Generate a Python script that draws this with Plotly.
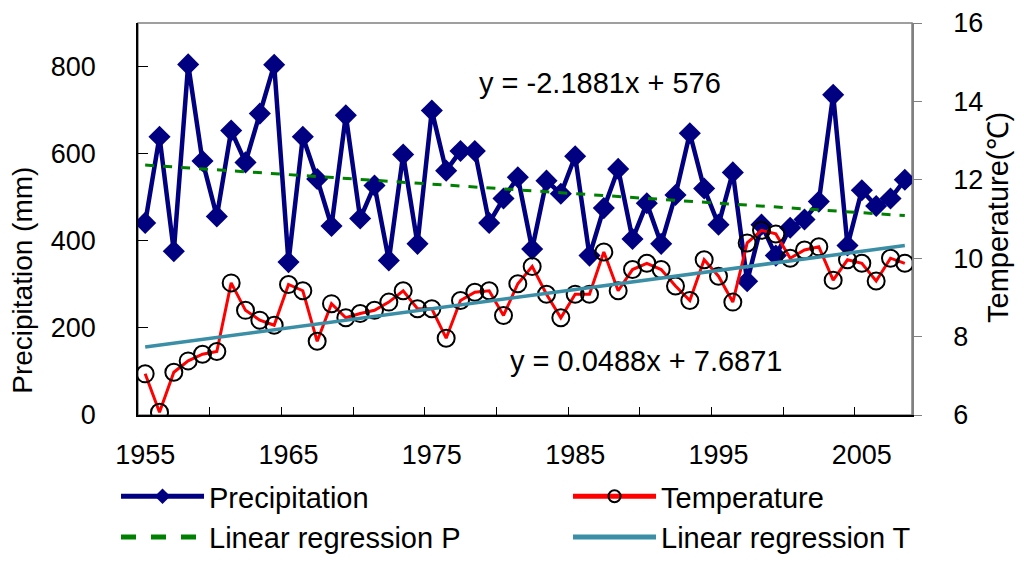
import plotly.graph_objects as go

years = list(range(1955, 2009))

precipitation = [
    441, 639, 376, 805, 583, 456, 653, 580, 692, 804,
    351, 639, 542, 434, 688, 451, 527, 355, 598, 393,
    699, 561, 606, 606, 441, 497, 546, 381, 538, 508,
    594, 366, 475, 565, 404, 486, 393, 505, 647, 520,
    437, 557, 307, 437, 366, 430, 449, 490, 735, 389,
    516, 480, 497, 540,
]

temperature = [
    7.05, 6.07, 7.09, 7.38, 7.55, 7.62, 9.37, 8.67, 8.42, 8.29,
    9.33, 9.17, 7.88, 8.84, 8.48, 8.59, 8.67, 8.88, 9.17, 8.71,
    8.71, 7.96, 8.92, 9.13, 9.17, 8.54, 9.35, 9.79, 9.08, 8.48,
    9.08, 9.08, 10.16, 9.17, 9.71, 9.87, 9.71, 9.29, 8.92, 9.96,
    9.54, 8.88, 10.39, 10.71, 10.62, 10.00, 10.21, 10.29, 9.44, 9.96,
    9.87, 9.42, 10.00, 9.87,
]

# trendline coefficients as printed on the chart (x = 1, 2, ... per year)
p_slope, p_intercept = -2.1881, 576
t_slope, t_intercept = 0.0488, 7.6871

p_trend = [p_slope * (i + 1) + p_intercept for i in range(len(years))]
t_trend = [t_slope * (i + 1) + t_intercept for i in range(len(years))]

label_years = [1955, 1965, 1975, 1985, 1995, 2005]
tick_marks = [y + 0.5 for y in range(1959, 2008, 5)]

font_name = "Liberation Sans, Arial, sans-serif"

fig = go.Figure()

fig.add_trace(go.Scatter(
    x=years, y=precipitation, name="Precipitation",
    mode="lines+markers",
    line=dict(color="#000080", width=4.5),
    marker=dict(symbol="diamond", size=17, color="#000080"),
))
fig.add_trace(go.Scatter(
    x=years, y=temperature, name="Temperature", yaxis="y2",
    mode="lines+markers",
    line=dict(color="#ff0000", width=3),
    marker=dict(symbol="circle-open", size=17, color="black",
                line=dict(width=2, color="black")),
))
fig.add_trace(go.Scatter(
    x=years, y=p_trend, name="Linear regression P",
    mode="lines",
    line=dict(color="#008000", width=3, dash="dash"),
))
fig.add_trace(go.Scatter(
    x=years, y=t_trend, name="Linear regression T", yaxis="y2",
    mode="lines",
    line=dict(color="#3a8fa6", width=3.5),
))

fig.add_annotation(x=1986.7, y=762, text="y = -2.1881x + 576",
                   showarrow=False, font=dict(size=29, color="black"))
fig.add_annotation(x=1990.0, y=123, text="y = 0.0488x + 7.6871",
                   showarrow=False, font=dict(size=29, color="black"))

# axis titles
fig.add_annotation(xref="paper", yref="paper", x=-0.1486, y=0.345,
                   xanchor="center", yanchor="middle",
                   text="Precipitation (mm)", textangle=-90, showarrow=False,
                   font=dict(size=28, color="black"))
fig.add_annotation(xref="paper", yref="paper", x=1.111, y=0.505,
                   xanchor="center", yanchor="middle",
                   text="Temperature(℃)", textangle=-90, showarrow=False,
                   font=dict(size=29, color="black"))

# grey plot-area frame
fig.add_shape(type="rect", xref="paper", yref="paper", x0=0, x1=1, y0=0, y1=1,
              line=dict(color="#808080", width=1.5), layer="below")

fig.update_layout(
    width=1016, height=567,
    margin=dict(l=130, r=112, t=15, b=152),
    paper_bgcolor="white", plot_bgcolor="white",
    font=dict(family=font_name, size=27, color="black"),
    showlegend=True,
    legend=dict(
        orientation="h", x=-0.0284, xanchor="left", y=-0.1425, yanchor="top",
        itemwidth=83, entrywidth=354, itemsizing="constant",
        font=dict(size=29), tracegroupgap=0, bgcolor="rgba(0,0,0,0)",
    ),
    xaxis=dict(
        range=[1954.5, 2008.5], tickvals=label_years, ticks="",
        showline=True, linecolor="black", linewidth=1.5,
        showgrid=False, zeroline=False, ticklabelstandoff=15,
        automargin=False, ticklabeloverflow="allow",
        minor=dict(tickvals=tick_marks, ticks="inside", ticklen=8,
                   tickcolor="black", showgrid=False),
    ),
    yaxis=dict(
        range=[0, 900], tickvals=[0, 200, 400, 600, 800],
        ticks="inside", ticklen=10, tickcolor="black",
        showline=True, linecolor="black", linewidth=1.5,
        showgrid=False, zeroline=False, ticklabelstandoff=35,
        automargin=False, ticklabeloverflow="allow",
    ),
    yaxis2=dict(
        overlaying="y", side="right",
        range=[6, 16], tickvals=[6, 8, 10, 12, 14, 16],
        ticks="outside", ticklen=8, tickcolor="#808080",
        showline=True, linecolor="#808080", linewidth=1.5,
        showgrid=False, zeroline=False, ticklabelstandoff=26,
        automargin=False, ticklabeloverflow="allow",
    ),
)

fig.write_html("out.html")
